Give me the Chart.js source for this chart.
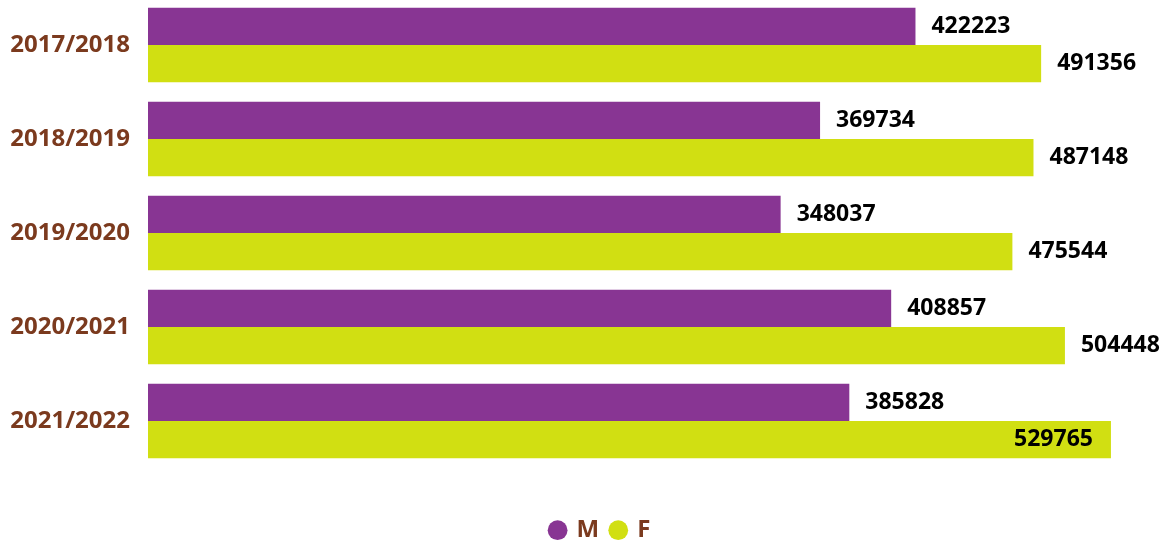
<!DOCTYPE html>
<html>
<head>
<meta charset="utf-8">
<title>M / F</title>
<script src="https://cdn.jsdelivr.net/npm/chart.js@4/dist/chart.umd.min.js"></script>
<style>
  html, body { margin: 0; padding: 0; background: #fff; }
  #wrap { width: 1167px; height: 543px; position: relative; }
</style>
</head>
<body>
<div id="wrap"><canvas id="bar-chart"></canvas></div>
<script>
// Dữ liệu
var years = ["2017/2018", "2018/2019", "2019/2020", "2020/2021", "2021/2022"];
var valuesM = [422223, 369734, 348037, 408857, 385828];
var valuesF = [491356, 487148, 475544, 504448, 529765];
var seriesNames = ["M", "F"];

var brown = "#7b3a1e";
var fontName = "'Open Sans', 'Noto Sans', sans-serif";

// Nhãn số ở cuối thanh
var barLabels = {
  id: "barLabels",
  afterDatasetsDraw: function (chart) {
    var ctx = chart.ctx;
    ctx.save();
    ctx.font = "bold 23px " + fontName;
    ctx.fillStyle = "#000";
    ctx.textBaseline = "middle";
    chart.data.datasets.forEach(function (ds, i) {
      chart.getDatasetMeta(i).data.forEach(function (bar, j) {
        var text = String(ds.data[j]);
        var w = ctx.measureText(text).width;
        if (bar.x + 16 + w > chart.width - 2) {
          ctx.textAlign = "right";
          ctx.fillText(text, bar.x - 18, bar.y);
        } else {
          ctx.textAlign = "left";
          ctx.fillText(text, bar.x + 16, bar.y);
        }
      });
    });
    ctx.restore();
  },
};

// Cố định chiều cao legend, dời legend sang phải một chút
// và kéo vùng vẽ lên trên 2px
var layoutFix = {
  id: "layoutFix",
  beforeLayout: function (chart) {
    var lg = chart.legend;
    if (lg && !lg._fixed) {
      var fit = lg.fit;
      lg.fit = function () {
        fit.call(this);
        this.height = 75;
        if (this.lineWidths && this.lineWidths.length) {
          this.lineWidths[0] -= 34;
        }
      };
      lg._fixed = true;
    }
  },
  afterLayout: function (chart) {
    var y = chart.scales.y;
    y.top -= 2;
    y.height += 2;
    y.configure();
    chart.chartArea.top -= 2;
    chart.chartArea.height += 2;
  },
};

var ctx = document.getElementById("bar-chart").getContext("2d");
var chart = new Chart(ctx, {
  type: "bar",
  data: {
    labels: years,
    datasets: [
      {
        label: seriesNames[0],
        data: valuesM,
        backgroundColor: "#883593",
        borderWidth: 0,
      },
      {
        label: seriesNames[1],
        data: valuesF,
        backgroundColor: "#d1df12",
        borderWidth: 0,
      },
    ],
  },
  options: {
    indexAxis: "y",
    responsive: true,
    maintainAspectRatio: false,
    animation: false,
    categoryPercentage: 0.79,
    barPercentage: 1,
    layout: {
      padding: { top: 0, right: 0, bottom: 0, left: 0 },
    },
    scales: {
      x: {
        display: false,
        min: 0,
        max: 560600,
      },
      y: {
        grid: { display: false, drawTicks: false },
        border: { display: false },
        ticks: {
          padding: 18,
          color: brown,
          font: { family: fontName, size: 24, weight: "bold" },
        },
        afterFit: function (scale) {
          scale.width = 148;
          scale.paddingTop = 0;
          scale.paddingBottom = 0;
        },
      },
    },
    plugins: {
      legend: {
        position: "bottom",
        title: {
          display: true,
          text: " ",
          font: { size: 1 },
          padding: { top: 37, bottom: 0 },
        },
        labels: {
          usePointStyle: true,
          pointStyle: "circle",
          boxWidth: 14,
          boxHeight: 14,
          padding: 12,
          color: brown,
          font: { family: fontName, size: 24, weight: "bold" },
        },
      },
      tooltip: { enabled: false },
    },
  },
  plugins: [barLabels, layoutFix],
});
</script>
</body>
</html>
